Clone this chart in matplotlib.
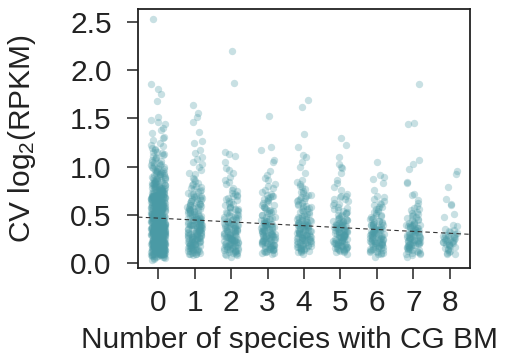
import numpy as np
import pandas as pd
import matplotlib
matplotlib.use("Agg")
import matplotlib.pyplot as plt
import seaborn as sns

# CV of expression per gene, grouped by number of species with CG body methylation
species_counts = [0, 1, 2, 3, 4, 5, 6, 7, 8]

cv_0 = [
    2.53, 1.85, 1.80, 1.75, 1.68, 1.51, 1.48, 1.46, 1.44, 1.40, 1.38, 1.35, 1.31, 1.29, 1.27,
    1.24, 1.22, 1.19, 1.17, 1.15, 1.14, 1.12, 1.10, 1.08, 1.07, 1.05, 1.03, 1.02, 1.00, 0.98,
    0.97, 0.95, 0.94, 0.92, 0.91, 0.89, 0.88, 0.87, 0.86, 0.84, 0.83, 0.82, 0.81, 0.79, 0.78,
    0.77, 0.76, 0.75, 0.74, 0.73, 0.72, 0.71, 0.70, 0.69, 0.69, 0.68, 0.67, 0.66, 0.65, 0.64,
    0.63, 0.63, 0.62, 0.61, 0.60, 0.60, 0.59, 0.58, 0.57, 0.57, 0.56, 0.55, 0.55, 0.54, 0.53,
    0.53, 0.52, 0.51, 0.51, 0.50, 0.50, 0.49, 0.48, 0.48, 0.47, 0.47, 0.46, 0.46, 0.45, 0.45,
    0.44, 0.44, 0.43, 0.43, 0.42, 0.42, 0.41, 0.41, 0.40, 0.40, 0.39, 0.39, 0.38, 0.38, 0.37,
    0.37, 0.36, 0.36, 0.35, 0.35, 0.34, 0.34, 0.33, 0.33, 0.32, 0.32, 0.31, 0.31, 0.30, 0.30,
    0.29, 0.29, 0.28, 0.28, 0.27, 0.27, 0.26, 0.26, 0.25, 0.25, 0.24, 0.24, 0.23, 0.23, 0.22,
    0.22, 0.21, 0.21, 0.20, 0.20, 0.19, 0.19, 0.18, 0.18, 0.17, 0.17, 0.16, 0.16, 0.15, 0.15,
    0.14, 0.14, 0.13, 0.12, 0.12, 0.11, 0.10, 0.10, 0.09, 0.08, 0.07, 0.06, 0.05, 0.04, 0.03,
    0.81, 0.78, 0.74, 0.71, 0.68, 0.66, 0.63, 0.61, 0.58, 0.56, 0.54, 0.52, 0.49, 0.47, 0.45,
    0.43, 0.41, 0.39, 0.37, 0.35, 0.33, 0.31, 0.29, 0.27, 0.25, 0.23, 0.21, 0.19, 0.17, 0.15,
    0.72, 0.67, 0.62, 0.57, 0.53, 0.49, 0.46, 0.43, 0.40, 0.37, 0.34, 0.31, 0.28, 0.26, 0.24,
    0.22, 0.20, 0.18, 0.16, 0.14, 0.12, 0.11, 0.09, 0.08, 0.06, 0.65, 0.59, 0.51, 0.44, 0.38,
    0.33, 0.28, 0.24, 0.19, 0.13, 0.69, 0.55, 0.42, 0.36, 0.27, 0.21, 0.48, 0.32, 0.25, 0.18,
    0.93, 0.85, 0.80, 0.75, 0.70, 0.64, 0.60, 0.56, 0.50, 0.46, 0.41, 0.35, 0.30, 0.26, 0.20,
    0.57, 0.52, 0.47, 0.42, 0.38, 0.34, 0.30, 0.27, 0.23, 0.19, 0.16, 0.13, 0.10, 0.44, 0.36,
    0.12, 0.27, 0.41, 0.55, 0.68, 0.83, 0.19, 0.33, 0.47, 0.61, 0.74, 0.09, 0.24, 0.38, 0.52,
    0.66, 0.79, 0.14, 0.29, 0.43, 0.57, 0.71, 0.88, 0.21, 0.35, 0.49, 0.63, 0.07, 0.17, 0.31,
    0.45, 0.59, 0.73, 0.86, 0.11, 0.26, 0.40, 0.54, 0.67, 0.80, 0.16, 0.30, 0.44, 0.58, 0.72,
    0.23, 0.37, 0.51, 0.65, 0.78, 0.92, 0.08, 0.20, 0.34, 0.48, 0.62, 0.75, 0.13, 0.28, 0.42,
    0.56, 0.69, 0.84, 0.18, 0.32, 0.46, 0.60, 0.73, 0.10, 0.25, 0.39, 0.53, 0.67, 0.81, 0.15,
    0.36, 0.50, 0.64, 0.77, 0.22, 0.31, 0.45, 0.58, 0.70, 0.89, 0.06, 0.19, 0.33, 0.47, 0.61,
    0.28, 0.42, 0.55, 0.68, 0.82, 0.14, 0.26, 0.39, 0.52, 0.65, 0.76, 0.09, 0.21, 0.35, 0.49,
    0.63, 0.74, 0.17, 0.30, 0.44, 0.57, 0.71, 0.85, 0.12, 0.24, 0.37, 0.51, 0.64, 0.78, 0.20,
    0.34, 0.48, 0.62, 0.75, 0.90, 0.11, 0.27, 0.40, 0.54, 0.66, 0.80, 0.16, 0.29, 0.43, 0.56,
    0.69, 0.23, 0.36, 0.50, 0.63, 0.77, 0.08, 0.18, 0.32, 0.46, 0.59, 0.72, 0.87, 0.13, 0.25,
    0.38, 0.52, 0.65, 0.79, 0.21, 0.34, 0.47, 0.60, 0.73, 0.10, 0.28, 0.41, 0.55, 0.68, 0.15,
    0.30, 0.44, 0.57, 0.70, 0.83, 0.19, 0.33, 0.46, 0.59, 0.12, 0.26, 0.39, 0.53, 0.66, 0.22,
    0.35, 0.49, 0.62, 0.76, 0.07, 0.17, 0.31, 0.45, 0.58, 0.71, 0.94, 0.24, 0.37, 0.51, 0.64,
    1.06, 1.13, 0.99, 1.18, 1.02, 0.96, 1.09, 0.91, 1.15, 0.97, 1.04, 0.93, 1.21, 1.11, 0.95,
    0.14, 0.27, 0.40, 0.53, 0.67, 0.20, 0.32, 0.45, 0.58, 0.09, 0.23, 0.36, 0.48, 0.61, 0.18,
    0.29, 0.42, 0.55, 0.69, 0.11, 0.25, 0.38, 0.50, 0.63, 0.16, 0.31, 0.43, 0.56, 0.05, 0.21,
    0.34, 0.47, 0.60, 0.74, 0.13, 0.26, 0.39, 0.52, 0.65, 0.19, 0.33, 0.44, 0.57, 0.08, 0.28,
    0.41, 0.54, 0.68, 0.22, 0.35, 0.48, 0.62, 0.15, 0.30, 0.43, 0.56, 0.71, 0.10, 0.24, 0.37,
    0.88, 0.95, 1.01, 0.79, 0.84, 0.91, 0.73, 0.98, 0.86, 0.77, 1.04, 0.82, 0.69, 0.93, 0.75,
]
cv_1 = [
    1.64, 1.55, 1.51, 1.46, 1.36, 1.26, 1.24, 1.17, 1.14, 1.05, 1.03, 1.00, 0.93, 0.92, 0.88,
    0.85, 0.83, 0.81, 0.80, 0.78, 0.77, 0.75, 0.74, 0.72, 0.71, 0.70, 0.68, 0.67, 0.66, 0.65,
    0.64, 0.62, 0.61, 0.60, 0.59, 0.58, 0.57, 0.56, 0.55, 0.54, 0.53, 0.52, 0.51, 0.50, 0.49,
    0.48, 0.47, 0.46, 0.45, 0.45, 0.44, 0.43, 0.42, 0.41, 0.40, 0.40, 0.39, 0.38, 0.37, 0.36,
    0.36, 0.35, 0.34, 0.33, 0.33, 0.32, 0.31, 0.30, 0.30, 0.29, 0.28, 0.27, 0.27, 0.26, 0.25,
    0.25, 0.24, 0.23, 0.22, 0.22, 0.21, 0.20, 0.19, 0.19, 0.18, 0.17, 0.16, 0.15, 0.14, 0.13,
    0.12, 0.11, 0.10, 0.09, 0.08, 0.62, 0.55, 0.48, 0.43, 0.38, 0.34, 0.29, 0.24, 0.20, 0.16,
    0.58, 0.46, 0.39, 0.31, 0.26, 0.21, 0.17, 0.13, 0.35, 0.28,
    0.15, 0.28, 0.41, 0.54, 0.67, 0.22, 0.35, 0.48, 0.60, 0.11, 0.26, 0.39, 0.51, 0.64, 0.18,
    0.31, 0.44, 0.57, 0.73, 0.13, 0.24, 0.37, 0.50, 0.62, 0.20, 0.33, 0.46, 0.09, 0.27, 0.40,
    0.53, 0.66, 0.16, 0.29, 0.42, 0.55, 0.79, 0.12, 0.23, 0.36, 0.49, 0.61, 0.19, 0.32, 0.45,
    0.25, 0.38, 0.52, 0.70, 0.14, 0.30, 0.43, 0.56, 0.21, 0.34, 0.47, 0.10, 0.28, 0.41, 0.17,
    0.96, 1.08, 0.87, 0.82, 1.10, 0.76, 0.69, 0.59, 0.35, 0.22, 0.26, 0.31, 0.15, 0.44, 0.39,
]
cv_2 = [
    2.20, 1.86, 1.15, 1.13, 1.11, 1.05, 0.96, 0.93, 0.89, 0.86, 0.82, 0.78, 0.76, 0.73, 0.71,
    0.69, 0.67, 0.65, 0.63, 0.61, 0.60, 0.58, 0.56, 0.55, 0.53, 0.52, 0.50, 0.49, 0.47, 0.46,
    0.45, 0.43, 0.42, 0.41, 0.40, 0.38, 0.37, 0.36, 0.35, 0.34, 0.33, 0.32, 0.31, 0.30, 0.29,
    0.28, 0.27, 0.26, 0.25, 0.24, 0.23, 0.22, 0.21, 0.20, 0.19, 0.18, 0.17, 0.16, 0.15, 0.14,
    0.13, 0.12, 0.11, 0.10, 0.08, 0.06, 0.57, 0.48, 0.39, 0.33, 0.27, 0.22, 0.18, 0.14, 0.44,
    0.36, 0.29, 0.24, 0.20, 0.16, 0.31, 0.26,
    0.14, 0.27, 0.40, 0.53, 0.66, 0.21, 0.34, 0.47, 0.10, 0.24, 0.37, 0.50, 0.62, 0.17, 0.30,
    0.43, 0.56, 0.72, 0.12, 0.25, 0.38, 0.19, 0.32, 0.45, 0.58, 0.08, 0.22, 0.35, 0.48, 0.15,
    0.28, 0.41, 0.54, 0.69, 0.13, 0.26, 0.39, 0.20, 0.33, 0.46, 0.11, 0.23, 0.36, 0.51, 0.18,
    0.29, 0.42, 0.16, 0.31, 0.25, 0.84, 0.75, 0.64, 0.98, 0.21, 0.27, 0.14, 0.34, 0.19, 0.24,
]
cv_3 = [
    1.52, 1.20, 1.17, 1.07, 1.05, 0.91, 0.88, 0.86, 0.80, 0.76, 0.74, 0.72, 0.70, 0.68, 0.66,
    0.64, 0.62, 0.60, 0.58, 0.57, 0.55, 0.53, 0.52, 0.50, 0.48, 0.47, 0.45, 0.44, 0.42, 0.41,
    0.40, 0.38, 0.37, 0.36, 0.35, 0.34, 0.33, 0.32, 0.31, 0.30, 0.29, 0.28, 0.27, 0.26, 0.25,
    0.24, 0.23, 0.22, 0.21, 0.20, 0.19, 0.18, 0.17, 0.16, 0.15, 0.14, 0.13, 0.12, 0.11, 0.10,
    0.54, 0.46, 0.39, 0.33, 0.28, 0.23, 0.19, 0.15, 0.37, 0.30,
    0.15, 0.28, 0.41, 0.54, 0.67, 0.20, 0.33, 0.46, 0.11, 0.24, 0.37, 0.50, 0.63, 0.18, 0.30,
    0.43, 0.56, 0.71, 0.13, 0.26, 0.39, 0.22, 0.35, 0.48, 0.60, 0.16, 0.29, 0.42, 0.12, 0.25,
    0.38, 0.52, 0.65, 0.19, 0.32, 0.45, 0.14, 0.27, 0.40, 0.21, 0.34, 0.58, 0.17, 0.31, 0.23,
    0.44, 0.28, 0.36, 0.82, 0.78, 0.69, 0.95, 0.26, 0.19, 0.33, 0.22, 0.15, 0.29, 0.41, 0.24,
]
cv_4 = [
    1.69, 1.62, 1.34, 1.20, 1.12, 1.10, 1.00, 0.93, 0.86, 0.82, 0.79, 0.77, 0.75, 0.73, 0.71,
    0.69, 0.67, 0.65, 0.64, 0.62, 0.60, 0.59, 0.57, 0.56, 0.54, 0.53, 0.51, 0.50, 0.49, 0.47,
    0.46, 0.45, 0.44, 0.42, 0.41, 0.40, 0.39, 0.38, 0.37, 0.36, 0.35, 0.34, 0.33, 0.32, 0.31,
    0.30, 0.29, 0.28, 0.27, 0.26, 0.25, 0.24, 0.23, 0.22, 0.21, 0.20, 0.19, 0.18, 0.17, 0.16,
    0.15, 0.14, 0.13, 0.12, 0.10, 0.58, 0.48, 0.40, 0.35, 0.30, 0.26, 0.22, 0.18, 0.43, 0.33,
    0.28, 0.24,
    0.16, 0.29, 0.42, 0.55, 0.68, 0.21, 0.34, 0.47, 0.12, 0.25, 0.38, 0.51, 0.64, 0.18, 0.31,
    0.44, 0.57, 0.74, 0.14, 0.27, 0.40, 0.23, 0.36, 0.49, 0.61, 0.17, 0.30, 0.43, 0.13, 0.26,
    0.39, 0.53, 0.66, 0.20, 0.33, 0.46, 0.15, 0.28, 0.41, 0.22, 0.35, 0.59, 0.19, 0.32, 0.24,
    0.45, 0.29, 0.37, 0.84, 0.80, 0.71, 1.05, 0.27, 0.20, 0.34, 0.23, 0.16, 0.30, 0.42, 0.25,
]
cv_5 = [
    1.30, 1.22, 1.10, 1.03, 1.00, 0.98, 0.93, 0.83, 0.76, 0.72, 0.70, 0.68, 0.66, 0.64, 0.62,
    0.60, 0.58, 0.57, 0.55, 0.53, 0.52, 0.50, 0.49, 0.47, 0.46, 0.44, 0.43, 0.42, 0.40, 0.39,
    0.38, 0.37, 0.36, 0.35, 0.34, 0.33, 0.32, 0.31, 0.30, 0.29, 0.28, 0.27, 0.26, 0.25, 0.24,
    0.23, 0.22, 0.21, 0.20, 0.19, 0.18, 0.17, 0.16, 0.15, 0.14, 0.13, 0.12, 0.10, 0.45, 0.37,
    0.32, 0.27, 0.23, 0.19, 0.16, 0.34, 0.29,
    0.15, 0.28, 0.41, 0.54, 0.66, 0.20, 0.33, 0.46, 0.12, 0.24, 0.37, 0.50, 0.61, 0.17, 0.30,
    0.43, 0.56, 0.13, 0.26, 0.39, 0.22, 0.35, 0.48, 0.18, 0.31, 0.44, 0.14, 0.27, 0.40, 0.21,
    0.34, 0.52, 0.19, 0.32, 0.45, 0.16, 0.29, 0.42, 0.23, 0.36, 0.25, 0.38, 0.86, 0.79, 0.70,
    0.27, 0.20, 0.33, 0.24, 0.15, 0.29, 0.41, 0.22, 0.18, 0.31,
]
cv_6 = [
    1.05, 0.91, 0.89, 0.87, 0.83, 0.76, 0.70, 0.66, 0.64, 0.62, 0.60, 0.58, 0.56, 0.54, 0.52,
    0.50, 0.49, 0.47, 0.46, 0.44, 0.43, 0.41, 0.40, 0.39, 0.37, 0.36, 0.35, 0.34, 0.33, 0.32,
    0.31, 0.30, 0.29, 0.28, 0.27, 0.26, 0.25, 0.24, 0.23, 0.22, 0.21, 0.20, 0.19, 0.18, 0.17,
    0.16, 0.15, 0.14, 0.13, 0.12, 0.11, 0.09, 0.06, 0.42, 0.34, 0.29, 0.25, 0.21, 0.17, 0.30,
    0.23,
    0.14, 0.27, 0.40, 0.53, 0.20, 0.33, 0.46, 0.11, 0.24, 0.37, 0.50, 0.17, 0.30, 0.43, 0.56,
    0.13, 0.26, 0.39, 0.22, 0.35, 0.48, 0.18, 0.31, 0.44, 0.10, 0.23, 0.36, 0.15, 0.28, 0.41,
    0.21, 0.34, 0.19, 0.32, 0.25, 0.38, 0.61, 0.68, 0.58, 0.27, 0.16, 0.29, 0.22, 0.12, 0.35,
    0.24, 0.20, 0.30,
]
cv_7 = [
    1.85, 1.45, 1.44, 1.07, 1.03, 0.97, 0.84, 0.83, 0.72, 0.71, 0.62, 0.59, 0.57, 0.55, 0.53,
    0.51, 0.50, 0.48, 0.46, 0.45, 0.43, 0.42, 0.40, 0.39, 0.38, 0.36, 0.35, 0.34, 0.33, 0.32,
    0.31, 0.30, 0.29, 0.28, 0.27, 0.26, 0.25, 0.24, 0.23, 0.22, 0.21, 0.20, 0.19, 0.18, 0.17,
    0.16, 0.15, 0.14, 0.13, 0.11, 0.09, 0.06, 0.37, 0.29, 0.24, 0.20, 0.27,
    0.13, 0.26, 0.39, 0.52, 0.19, 0.32, 0.45, 0.10, 0.23, 0.36, 0.49, 0.16, 0.29, 0.42, 0.12,
    0.25, 0.38, 0.21, 0.34, 0.47, 0.17, 0.30, 0.41, 0.08, 0.22, 0.35, 0.14, 0.27, 0.40, 0.20,
    0.33, 0.18, 0.31, 0.24, 0.37, 0.56, 0.65, 0.28, 0.15, 0.26, 0.21, 0.11, 0.32, 0.23, 0.19,
]
cv_8 = [
    0.95, 0.92, 0.79, 0.66, 0.61, 0.60, 0.51, 0.48, 0.40, 0.38, 0.35, 0.33, 0.32, 0.30, 0.29,
    0.28, 0.27, 0.26, 0.25, 0.24, 0.23, 0.22, 0.21, 0.20, 0.19, 0.17, 0.15, 0.13, 0.11, 0.09,
    0.27, 0.24, 0.22,
    0.12, 0.18, 0.25, 0.31, 0.16, 0.22, 0.28, 0.14, 0.20, 0.26, 0.34, 0.10, 0.19, 0.23, 0.29,
]

# linear trend of CV against species count
fit_intercept = 0.466
fit_slope = -0.0196

y_ticks = [0.0, 0.5, 1.0, 1.5, 2.0, 2.5]
y_tick_labels = ["0.0", "0.5", "1.0", "1.5", "2.0", "2.5"]
x_label = "Number of species with CG BM"
y_label = "CV log$_2$(RPKM)"

groups = [cv_0, cv_1, cv_2, cv_3, cv_4, cv_5, cv_6, cv_7, cv_8]
df = pd.DataFrame({
    "n_species": np.concatenate([[k] * len(g) for k, g in zip(species_counts, groups)]),
    "cv": np.concatenate(groups),
})

plt.rcParams["font.family"] = ["Liberation Sans", "DejaVu Sans"]
plt.rcParams["mathtext.fontset"] = "custom"
plt.rcParams["mathtext.rm"] = "Liberation Sans"
plt.rcParams["mathtext.it"] = "Liberation Sans:italic"
plt.rcParams["mathtext.default"] = "regular"

ink = "#222222"
point_color = "#4a9aa5"
fs = 21.5

fig = plt.figure(figsize=(5.29, 3.53), dpi=100)
ax = fig.add_axes([0.2609, 0.2408, 0.6276, 0.7337])

np.random.seed(11)
sns.stripplot(data=df, x="n_species", y="cv", order=species_counts, jitter=0.2,
              color=point_color, alpha=0.3, size=5.3, linewidth=0, ax=ax, zorder=2)

ax.axline((0, fit_intercept), slope=fit_slope, color="#333333", lw=0.8,
          ls=(0, (4, 3)), zorder=5)

ax.set_xlim(-0.55, 8.55)
ax.set_ylim(-0.05, 2.63)
ax.set_yticks(y_ticks)
ax.set_yticklabels(y_tick_labels)
ax.set_xticks(range(len(species_counts)))
ax.set_xticklabels([str(k) for k in species_counts])

for s in ax.spines.values():
    s.set_color(ink)
    s.set_linewidth(1.3)

ax.tick_params(axis="both", length=8, width=1.1, color=ink, labelcolor=ink, labelsize=fs)
ax.tick_params(axis="y", pad=11)
ax.tick_params(axis="x", pad=7)

ax.set_xlabel(x_label, fontsize=fs, color=ink)
ax.set_ylabel(y_label, fontsize=fs, color=ink)
ax.xaxis.set_label_coords(0.456, -0.225)
ax.yaxis.set_label_coords(-0.30, 0.5)

fig.savefig("out.png", dpi=100)
